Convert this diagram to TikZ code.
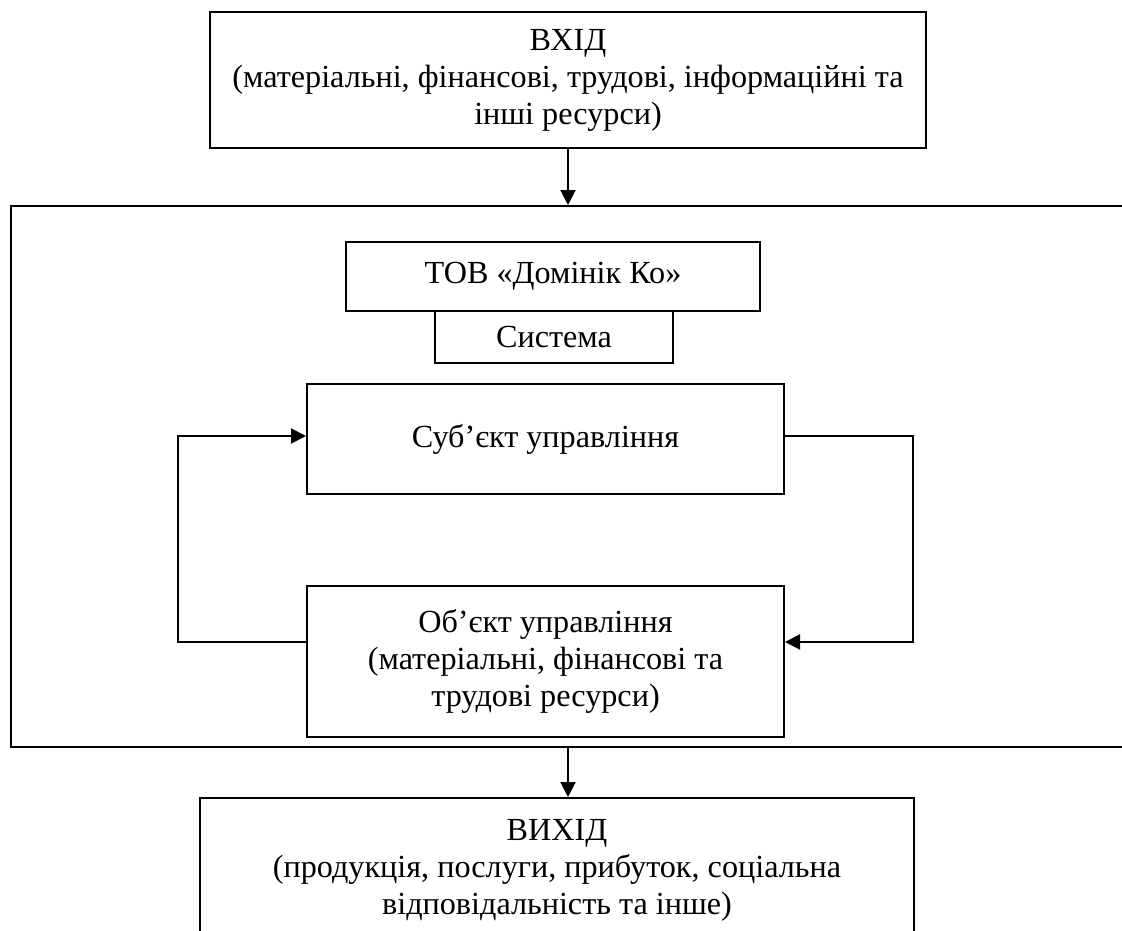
\documentclass[tikz,border=0pt]{standalone}
\usepackage{fontspec}
\setmainfont{Liberation Serif}
\usetikzlibrary{arrows.meta}
\begin{document}
\begin{tikzpicture}[x=1pt,y=-1pt,
  every node/.style={font=\fontsize{32.2}{37}\selectfont},
  frame/.style={draw, line width=2pt, rectangle, inner sep=0pt, align=center},
  link/.style={line width=2pt, -{Triangle[length=15pt,width=15pt]}}]
\clip (0,0) rectangle (1122,931);

% input and output of the system
\node[frame, minimum width=716pt, minimum height=136pt] (in) at (568,80)
  {ВХІД\\(матеріальні, фінансові, трудові, інформаційні та\\інші ресурси)};
\node[frame, minimum width=714pt, minimum height=144pt] (out) at (557,870)
  {ВИХІД\\(продукція, послуги, прибуток, соціальна\\відповідальність та інше)};

% the enterprise as a system
\node[frame, minimum width=1129pt, minimum height=541pt] (sys) at (575.5,476.5) {};
\node[frame, minimum width=414pt, minimum height=69pt] (firm) at (553,276.5) {ТОВ «Домінік Ко»};
\node[frame, minimum width=238pt, minimum height=52pt] (kind) at (554,337) {Система};
\node[frame, minimum width=477pt, minimum height=110pt] (subj) at (545.5,439) {Суб’єкт управління};
\node[frame, minimum width=477pt, minimum height=151pt] (obj) at (545.5,661.5)
  {Об’єкт управління\\(матеріальні, фінансові та\\трудові ресурси)};

% flow axis and feedback loop corners
\coordinate (axis) at (568,0);
\coordinate (ltop) at (178,436);
\coordinate (lbot) at (178,642);
\coordinate (rtop) at (913,436);
\coordinate (rbot) at (913,642);

\draw[link] (in.south -| axis) -- (sys.north -| axis);
\draw[link] (sys.south -| axis) -- (out.north -| axis);
\draw[link] (obj.west |- lbot) -- (lbot) -- (ltop) -- (subj.west |- ltop);
\draw[link] (subj.east |- rtop) -- (rtop) -- (rbot) -- (obj.east |- rbot);
\end{tikzpicture}
\end{document}
